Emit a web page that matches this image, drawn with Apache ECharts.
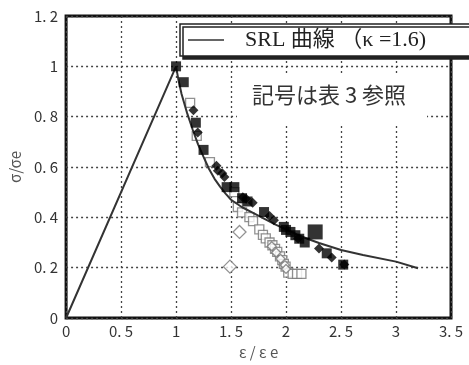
<!DOCTYPE html>
<html>
<head>
<meta charset="utf-8">
<script src="https://cdn.jsdelivr.net/npm/echarts@6/dist/echarts.min.js"></script>
<style>
html,body{margin:0;padding:0;background:#fff;}
#main{width:469px;height:365px;}
</style>
</head>
<body>
<div id="main"></div>
<script>
// SRL curve (kappa = 1.6)
var srlCurve=[[0,0],[1,1],[1.02,0.95],[1.05,0.89],[1.1,0.815],[1.15,0.75],[1.2,0.69],[1.25,0.64],
    [1.3,0.592],[1.35,0.553],[1.4,0.522],[1.45,0.494],[1.5,0.47],[1.6,0.44],[1.7,0.418],[1.8,0.395],
    [1.9,0.372],[2.0,0.352],[2.1,0.332],[2.2,0.314],[2.3,0.298],[2.5,0.27],[2.7,0.25],[3.0,0.224],[3.2,0.198]];
var filledSquares=[[1.0,1.0],[1.07,0.937],[1.18,0.776],[1.25,0.668],[1.46,0.52],[1.53,0.52],[1.6,0.476],
    [1.65,0.463],[1.8,0.421],[1.98,0.362],[2.0,0.35],[2.04,0.342],[2.085,0.329],[2.12,0.315],
    [2.17,0.3],[2.37,0.257],[2.52,0.212]];
var bigSquares=[[2.265,0.342]];
var filledDiamonds=[[1.158,0.825],[1.197,0.737],[1.367,0.605],[1.38,0.585],[1.42,0.575],[1.44,0.56],
    [1.607,0.48],[1.637,0.474],[1.697,0.458],[1.85,0.405],[1.89,0.388],[2.11,0.316],[2.3,0.276],
    [2.415,0.24],[2.53,0.213]];
var openSquares=[[1.128,0.855],[1.188,0.724],[1.308,0.619],[1.53,0.5],[1.562,0.441],[1.6,0.42],
    [1.667,0.401],[1.7,0.385],[1.757,0.352],[1.79,0.33],[1.816,0.316],[1.85,0.3],[1.876,0.289],
    [1.9,0.275],[1.92,0.263],[1.945,0.245],[1.966,0.23],[1.98,0.215],[1.996,0.204],[2.02,0.18],
    [2.06,0.175],[2.1,0.175],[2.14,0.175]];
var openDiamonds=[[1.577,0.342],[1.49,0.204]];
var smallOpenDiamonds=[[1.87,0.285],[1.91,0.26],[1.95,0.235],[1.99,0.21],[2.0,0.195]];
var xTicks={min:0,max:3.5,interval:0.5};
var yTicks={min:0,max:1.2,interval:0.2};
var legendName='SRL 曲線 （κ =1.6)';
var noteText='記号は表 3 参照';

var chart=echarts.init(document.getElementById('main'));
var labelFont='"Noto Sans CJK JP", "DejaVu Sans"';
var tickFmt=function (v) {
    return String(v).replace('.','. ');
};
var gridLine={show:true,lineStyle:{color:'#444',type:[2,3],width:1.3}};
var openStyle={color:'#fff',borderColor:'#777',borderWidth:1.3};

chart.setOption({
    animation:false,
    grid:{left:61,right:18,top:16,bottom:45,show:true,borderColor:'#111',borderWidth:3,backgroundColor:'transparent'},
    xAxis:{
        type:'value',min:xTicks.min,max:xTicks.max,interval:xTicks.interval,
        name:'ε / ε e',nameLocation:'middle',nameGap:27,
        nameTextStyle:{color:'#555',fontSize:15,fontFamily:labelFont},
        axisLine:{show:false},axisTick:{show:false},
        axisLabel:{color:'#333',fontSize:15,fontFamily:labelFont,margin:6,formatter:tickFmt},
        splitLine:gridLine
    },
    yAxis:{
        type:'value',min:yTicks.min,max:yTicks.max,interval:yTicks.interval,
        name:'σ/σe',nameLocation:'middle',nameGap:33,
        nameTextStyle:{color:'#555',fontSize:15,fontFamily:labelFont},
        axisLine:{show:false},axisTick:{show:false},
        axisLabel:{color:'#333',fontSize:15,fontFamily:labelFont,margin:8,formatter:tickFmt},
        splitLine:gridLine
    },
    legend:{
        data:[{name:legendName,icon:'rect'}],
        left:180,top:24,
        itemWidth:36,itemHeight:1.5,
        padding:[5,80,5,8],
        backgroundColor:'#fff',borderColor:'#222',borderWidth:1.5,
        shadowColor:'#222',shadowOffsetX:3,shadowOffsetY:3,shadowBlur:0,
        textStyle:{fontSize:22,color:'#222',fontFamily:'"Liberation Serif", "Noto Sans CJK JP"',padding:[0,0,0,16]}
    },
    graphic:[
        {type:'rect',z:1,shape:{x:237,y:73,width:190,height:52},style:{fill:'#fff'}},
        {type:'text',z:2,left:252,top:84,style:{text:noteText,fill:'#333',font:'22px "Noto Sans CJK JP"'}}
    ],
    series:[
        {name:'open squares',type:'scatter',symbol:'rect',symbolSize:9,data:openSquares,itemStyle:openStyle,z:3},
        {name:'open diamonds',type:'scatter',symbol:'diamond',symbolSize:13,data:openDiamonds,itemStyle:openStyle,z:3},
        {name:'small open diamonds',type:'scatter',symbol:'diamond',symbolSize:9,data:smallOpenDiamonds,itemStyle:openStyle,z:3},
        {name:legendName,type:'line',data:srlCurve,showSymbol:false,smooth:false,
            lineStyle:{color:'#333',width:2},itemStyle:{color:'#333'},z:4},
        {name:'filled squares',type:'scatter',symbol:'rect',symbolSize:10,data:filledSquares,itemStyle:{color:'#000'},z:5},
        {name:'big squares',type:'scatter',symbol:'rect',symbolSize:15,data:bigSquares,itemStyle:{color:'#000'},z:5},
        {name:'filled diamonds',type:'scatter',symbol:'diamond',symbolSize:10,data:filledDiamonds,itemStyle:{color:'#000'},z:5}
    ]
});
</script>
</body>
</html>
